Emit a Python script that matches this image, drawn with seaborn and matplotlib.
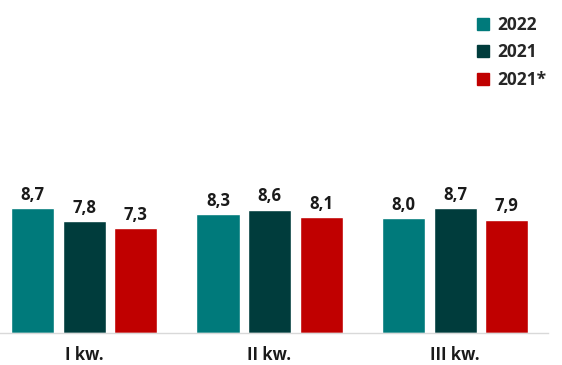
import matplotlib
matplotlib.use("Agg")
import matplotlib.pyplot as plt
from matplotlib.lines import Line2D
import seaborn as sns
import pandas as pd

quarters = ["I kw.", "II kw.", "III kw."]
series = ["2022", "2021", "2021*"]
values_2022 = [8.7, 8.3, 8.0]
values_2021 = [7.8, 8.6, 8.7]
values_2021s = [7.3, 8.1, 7.9]
colors = ["#007A7B", "#003C3C", "#C00000"]

rows = []
for name, vals in zip(series, [values_2022, values_2021, values_2021s]):
    for q, v in zip(quarters, vals):
        rows.append({"kwartał": q, "seria": name, "wartość": v})
df = pd.DataFrame(rows)

sns.set_theme(style="white")
plt.rcParams["font.family"] = ["Open Sans", "DejaVu Sans"]

fig = plt.figure(figsize=(5.62, 3.65), dpi=100)
ax = fig.add_axes([0.0, 32 / 365, 548 / 562, 333 / 365])

sns.barplot(data=df, x="kwartał", y="wartość", hue="seria", order=quarters,
            hue_order=series, palette=colors, width=0.834, gap=0.165,
            saturation=1, legend=False, ax=ax, errorbar=None)

for cont in ax.containers:
    labels = [f"{b.get_height():.1f}".replace(".", ",") for b in cont]
    ax.bar_label(cont, labels=labels, padding=3, fontsize=12, fontweight="bold",
                 color="#1a1a1a")

ax.set_xlim(-0.453, 2.501)
ax.set_ylim(0, 23.2)
ax.set_xlabel("")
ax.set_ylabel("")
ax.set_yticks([])
ax.tick_params(axis="x", length=0, pad=9, labelsize=12)
for lbl in ax.get_xticklabels():
    lbl.set_fontweight("bold")
    lbl.set_color("#1a1a1a")
for side in ["top", "right", "left"]:
    ax.spines[side].set_visible(False)
ax.spines["bottom"].set_color("#d9d9d9")
ax.spines["bottom"].set_linewidth(1)

handles = [Line2D([0], [0], marker="s", linestyle="", markersize=8,
                  markerfacecolor=c, markeredgecolor=c) for c in colors]
fig.legend(handles, series, loc="upper right", bbox_to_anchor=(1.0, 1.0),
           frameon=False, handlelength=0.8, handletextpad=0.4,
           labelspacing=0.55, prop={"weight": "bold", "size": 12.5})

fig.savefig("out.png", dpi=100)
